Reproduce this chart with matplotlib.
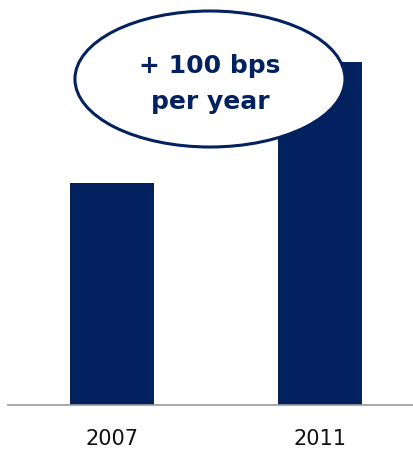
import matplotlib.pyplot as plt
from matplotlib.patches import Ellipse

years = ["2007", "2011"]
values = [222, 343]
callout = "+ 100 bps\nper year"

navy = "#03215E"

fig = plt.figure(figsize=(4.14, 4.49), dpi=100)
# axes spans from the baseline up to the top edge
ax = fig.add_axes([8 / 414, (449 - 405) / 449, 406 / 414, 405 / 449])

x = range(len(years))
ax.bar(x, values, width=0.405, color=navy, zorder=2)
ax.set_xlim(-0.501, 1.455)
ax.set_ylim(0, 405)

for s in ["top", "left", "right"]:
    ax.spines[s].set_visible(False)
ax.spines["bottom"].set_color("#999999")
ax.spines["bottom"].set_linewidth(1.2)
ax.set_yticks([])
ax.set_xticks(list(x), years)
ax.tick_params(axis="x", length=0, pad=17, labelsize=15, labelcolor="#111111")

# callout bubble
ell = Ellipse((0.472, 326), 1.301, 136, facecolor="white", edgecolor=navy,
              linewidth=2.2, zorder=3)
ax.add_patch(ell)
ax.text(0.472, 321, callout, ha="center", va="center", fontsize=18,
        fontweight="bold", color=navy, linespacing=1.6, zorder=4)

fig.savefig("out.png", dpi=100)
